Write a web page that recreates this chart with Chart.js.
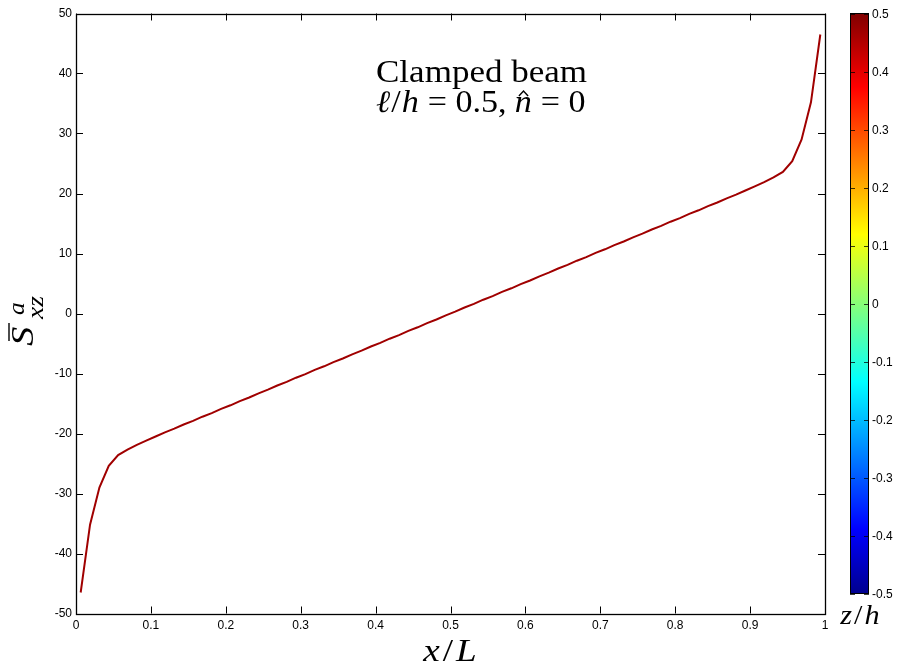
<!DOCTYPE html>
<html>
<head>
<meta charset="utf-8">
<title>Clamped beam</title>
<script src="https://cdn.jsdelivr.net/npm/chart.js@4.4.1/dist/chart.umd.min.js"></script>
<style>
  html, body { margin: 0; padding: 0; background: #fff; }
  #wrap { width: 898px; height: 669px; }
</style>
</head>
<body>
<div id="wrap"><canvas id="stress" width="898" height="669"></canvas></div>
<script>
// sample positions along the beam, x/L
const xPos = [
  0.00625, 0.01875, 0.03125, 0.04375, 0.05625, 0.06875, 0.08125, 0.09375, 0.10625, 0.11875,
  0.13125, 0.14375, 0.15625, 0.16875, 0.18125, 0.19375, 0.20625, 0.21875, 0.23125, 0.24375,
  0.25625, 0.26875, 0.28125, 0.29375, 0.30625, 0.31875, 0.33125, 0.34375, 0.35625, 0.36875,
  0.38125, 0.39375, 0.40625, 0.41875, 0.43125, 0.44375, 0.45625, 0.46875, 0.48125, 0.49375,
  0.50625, 0.51875, 0.53125, 0.54375, 0.55625, 0.56875, 0.58125, 0.59375, 0.60625, 0.61875,
  0.63125, 0.64375, 0.65625, 0.66875, 0.68125, 0.69375, 0.70625, 0.71875, 0.73125, 0.74375,
  0.75625, 0.76875, 0.78125, 0.79375, 0.80625, 0.81875, 0.83125, 0.84375, 0.85625, 0.86875,
  0.88125, 0.89375, 0.90625, 0.91875, 0.93125, 0.94375, 0.95625, 0.96875, 0.98125, 0.99375
];
// shear stress S_xz^a at z/h = 0.5
const sxz = [
  -46.5, -35.2, -29.0, -25.4, -23.6, -22.7, -21.9, -21.2, -20.5, -19.8,
  -19.2, -18.5, -17.9, -17.2, -16.6, -15.9, -15.3, -14.6, -14.0, -13.3,
  -12.7, -12.0, -11.4, -10.7, -10.1, -9.4, -8.8, -8.1, -7.5, -6.8,
  -6.2, -5.5, -4.9, -4.2, -3.6, -2.9, -2.3, -1.6, -1.0, -0.3,
  0.3, 1.0, 1.6, 2.3, 2.9, 3.6, 4.2, 4.9, 5.5, 6.2,
  6.8, 7.5, 8.1, 8.8, 9.4, 10.1, 10.7, 11.4, 12.0, 12.7,
  13.3, 14.0, 14.6, 15.3, 15.9, 16.6, 17.2, 17.9, 18.5, 19.2,
  19.8, 20.5, 21.2, 21.9, 22.7, 23.6, 25.4, 29.0, 35.2, 46.5
];
const xTicks = [0, 0.1, 0.2, 0.3, 0.4, 0.5, 0.6, 0.7, 0.8, 0.9, 1];
const yTicks = [-50, -40, -30, -20, -10, 0, 10, 20, 30, 40, 50];
const zTicks = [-0.5, -0.4, -0.3, -0.2, -0.1, 0, 0.1, 0.2, 0.3, 0.4, 0.5];

// jet colormap stops (fraction from bottom, colour)
const jetStops = [
  [0, 'rgb(0,0,143)'], [0.111, 'rgb(0,0,255)'], [0.365, 'rgb(0,255,255)'],
  [0.619, 'rgb(255,255,0)'], [0.873, 'rgb(255,0,0)'], [1, 'rgb(128,0,0)']
];

const SERIF = '"Liberation Serif", "DejaVu Serif", serif';
const SANS = '"Liberation Sans", Arial, sans-serif';

// draw a row of styled text pieces (font, horizontal stretch, gap after);
// returns the total width
function runs(ctx, parts, x, y, sx, measureOnly) {
  let cx = x;
  parts.forEach(p => {
    ctx.font = p.f;
    const w = ctx.measureText(p.t).width * sx;
    if (!measureOnly) {
      ctx.save();
      ctx.translate(cx, y);
      ctx.scale(sx, 1);
      ctx.fillText(p.t, 0, 0);
      ctx.restore();
      if (p.hat) {
        ctx.beginPath();
        ctx.moveTo(cx + w * 0.25, y - p.hat + 5);
        ctx.lineTo(cx + w * 0.52, y - p.hat);
        ctx.lineTo(cx + w * 0.79, y - p.hat + 5);
        ctx.lineWidth = 1.4;
        ctx.stroke();
      }
    }
    cx += w + (p.gap || 0);
  });
  return cx - x;
}

const decor = {
  id: 'decor',
  afterDraw(chart) {
    const { ctx, chartArea: a, scales: { x, y } } = chart;
    ctx.save();
    ctx.strokeStyle = '#000';
    ctx.fillStyle = '#000';
    ctx.lineWidth = 1;
    const seg = (x1, y1, x2, y2) => { ctx.beginPath(); ctx.moveTo(x1, y1); ctx.lineTo(x2, y2); ctx.stroke(); };

    // inward ticks on all four sides
    const tl = 7;
    xTicks.forEach(v => {
      const px = Math.round(x.getPixelForValue(v)) + 0.5;
      seg(px, a.bottom, px, a.bottom - tl);
      seg(px, a.top, px, a.top + tl);
    });
    yTicks.forEach(v => {
      const py = Math.round(y.getPixelForValue(v)) + 0.5;
      seg(a.left, py, a.left + tl, py);
      seg(a.right, py, a.right - tl, py);
    });
    ctx.lineWidth = 1.3;
    ctx.strokeRect(Math.round(a.left) + 0.5, Math.round(a.top) + 0.5, Math.round(a.right - a.left), Math.round(a.bottom - a.top));

    // colorbar
    const cb = { l: 850, r: 869, t: 13.5, b: 593.5 };
    const g = ctx.createLinearGradient(0, cb.b, 0, cb.t);
    jetStops.forEach(s => g.addColorStop(s[0], s[1]));
    ctx.fillStyle = g;
    ctx.fillRect(cb.l, cb.t, cb.r - cb.l, cb.b - cb.t);
    ctx.strokeStyle = 'rgba(0,0,0,0.75)';
    ctx.lineWidth = 1;
    ctx.font = '12px ' + SANS;
    ctx.textBaseline = 'middle';
    ctx.textAlign = 'left';
    zTicks.forEach(v => {
      const py = Math.round(cb.b - (v + 0.5) * (cb.b - cb.t)) + 0.5;
      seg(cb.l, py, cb.l + 5, py);
      seg(cb.r, py, cb.r - 5, py);
      ctx.fillStyle = '#000';
      ctx.fillText(String(v), cb.r + 3, py);
    });
    ctx.strokeStyle = '#000';
    ctx.strokeRect(cb.l + 0.5, cb.t, cb.r - cb.l - 1, cb.b - cb.t);

    // annotation
    ctx.textBaseline = 'alphabetic';
    ctx.fillStyle = '#000';
    ctx.strokeStyle = '#000';
    const it = 'italic 31px ' + SERIF, up = '31px ' + SERIF;
    runs(ctx, [{ t: 'Clamped beam', f: up }], 376, 82, 1.13);
    runs(ctx, [
      { t: '\u2113', f: it, gap: 1 }, { t: '/', f: up, gap: 1 }, { t: 'h', f: it, gap: 9 },
      { t: '= 0.5,', f: up, gap: 8 }, { t: 'n', f: it, hat: 21, gap: 9 }, { t: '= 0', f: up }
    ], 376, 112, 1.1);

    // x axis label
    const xl = [
      { t: 'x', f: 'italic 31px ' + SERIF, gap: 3 }, { t: '/', f: '31px ' + SERIF, gap: 3 },
      { t: 'L', f: 'italic 31px ' + SERIF }
    ];
    runs(ctx, xl, 450 - runs(ctx, xl, 0, 0, 1.2, true) / 2, 661, 1.2);

    // colorbar label
    const zl = [
      { t: 'z', f: 'italic 27px ' + SERIF, gap: 2 }, { t: '/', f: '27px ' + SERIF, gap: 2 },
      { t: 'h', f: 'italic 27px ' + SERIF }
    ];
    runs(ctx, zl, 860 - runs(ctx, zl, 0, 0, 1.12, true) / 2, 624, 1.12);

    // y axis label, rotated
    ctx.translate(33, 346);
    ctx.rotate(-Math.PI / 2);
    runs(ctx, [{ t: 'S', f: 'italic 31px ' + SERIF }], 0, 0, 1.25);
    ctx.lineWidth = 1.4;
    seg(5, -24, 23, -24);
    runs(ctx, [{ t: 'a', f: 'italic 23px ' + SERIF }], 31, -9, 1.1);
    runs(ctx, [{ t: 'xz', f: 'italic 23px ' + SERIF }], 27, 10, 1.2);
    ctx.restore();
  }
};

new Chart(document.getElementById('stress'), {
  type: 'scatter',
  data: {
    datasets: [{
      data: xPos.map((v, i) => ({ x: v, y: sxz[i] })),
      showLine: true,
      borderColor: '#a00000',
      borderWidth: 2,
      pointRadius: 0,
      tension: 0
    }]
  },
  options: {
    responsive: false,
    animation: false,
    devicePixelRatio: 1,
    layout: { padding: { left: 0, top: 13.5, right: 73, bottom: 0 } },
    plugins: { legend: { display: false }, tooltip: { enabled: false } },
    scales: {
      x: {
        type: 'linear', min: 0, max: 1,
        afterBuildTicks: s => { s.ticks = xTicks.map(v => ({ value: v })); },
        afterFit: s => { s.height = 55.5; },
        grid: { display: false, drawTicks: false },
        border: { display: false },
        ticks: {
          color: '#000', font: { family: SANS, size: 12 }, padding: 5, maxRotation: 0, autoSkip: false,
          callback: v => String(v)
        }
      },
      y: {
        type: 'linear', min: -50, max: 50,
        afterBuildTicks: s => { s.ticks = yTicks.map(v => ({ value: v })); },
        afterFit: s => { s.width = 76; },
        grid: { display: false, drawTicks: false },
        border: { display: false },
        ticks: { color: '#000', font: { family: SANS, size: 12 }, padding: 4, autoSkip: false }
      }
    }
  },
  plugins: [decor]
});
</script>
</body>
</html>
